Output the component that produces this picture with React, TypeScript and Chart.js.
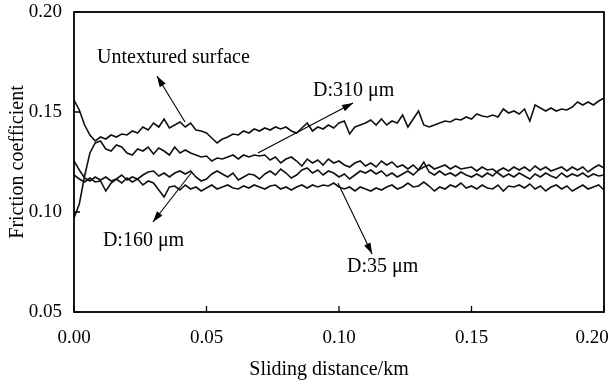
import React, { useEffect, useRef } from 'react';
import { Chart, registerables } from 'chart.js';

Chart.register(...registerables);

// Sliding distance (km)
const distance = [
  0, 0.002, 0.004, 0.006, 0.008, 0.01, 0.012, 0.014, 0.016, 0.018,
  0.02, 0.022, 0.024, 0.026, 0.028, 0.03, 0.032, 0.034, 0.036, 0.038,
  0.04, 0.042, 0.044, 0.046, 0.048, 0.05, 0.052, 0.054, 0.056, 0.058,
  0.06, 0.062, 0.064, 0.066, 0.068, 0.07, 0.072, 0.074, 0.076, 0.078,
  0.08, 0.082, 0.084, 0.086, 0.088, 0.09, 0.092, 0.094, 0.096, 0.098,
  0.1, 0.102, 0.104, 0.106, 0.108, 0.11, 0.112, 0.114, 0.116, 0.118,
  0.12, 0.122, 0.124, 0.126, 0.128, 0.13, 0.132, 0.134, 0.136, 0.138,
  0.14, 0.142, 0.144, 0.146, 0.148, 0.15, 0.152, 0.154, 0.156, 0.158,
  0.16, 0.162, 0.164, 0.166, 0.168, 0.17, 0.172, 0.174, 0.176, 0.178,
  0.18, 0.182, 0.184, 0.186, 0.188, 0.19, 0.192, 0.194, 0.196, 0.198,
  0.2,
];

const untextured = [
  0.156, 0.151, 0.1435, 0.1385, 0.1355, 0.1375, 0.1365, 0.1385, 0.1375, 0.139,
  0.1385, 0.1405, 0.1395, 0.1425, 0.141, 0.1445, 0.1425, 0.1465, 0.142, 0.1435,
  0.145, 0.1425, 0.1445, 0.141, 0.1405, 0.1395, 0.137, 0.1345, 0.1365, 0.1375,
  0.139, 0.1385, 0.1405, 0.1395, 0.1415, 0.1405, 0.142, 0.141, 0.1425, 0.1415,
  0.1425, 0.1405, 0.1395, 0.142, 0.1445, 0.1405, 0.1425, 0.1415, 0.1435, 0.142,
  0.1445, 0.1455, 0.139, 0.1425, 0.1435, 0.1445, 0.146, 0.1435, 0.1465, 0.1435,
  0.1455, 0.1445, 0.1485, 0.1425, 0.1465, 0.1505, 0.1435, 0.1425, 0.1435, 0.1445,
  0.1455, 0.145, 0.1465, 0.146, 0.1475, 0.1465, 0.149, 0.148, 0.1475, 0.1485,
  0.1475, 0.1515, 0.1495, 0.1505, 0.149, 0.1515, 0.1455, 0.1535, 0.152, 0.1505,
  0.152, 0.1505, 0.1515, 0.151, 0.1525, 0.155, 0.1535, 0.155, 0.1535, 0.1555,
  0.157,
];

const d310 = [
  0.097, 0.104, 0.118, 0.1295, 0.1345, 0.1355, 0.1315, 0.1305, 0.1335, 0.1325,
  0.1295, 0.1285, 0.1315, 0.1305, 0.1325, 0.129, 0.132, 0.1305, 0.1285, 0.1325,
  0.1295, 0.131, 0.1295, 0.1285, 0.1275, 0.128, 0.1255, 0.127, 0.1265, 0.1275,
  0.1285, 0.1265, 0.1285, 0.1275, 0.1285, 0.128, 0.1285, 0.126, 0.1275, 0.1245,
  0.1265, 0.1275, 0.1255, 0.123, 0.1265, 0.1245, 0.126, 0.1235, 0.1265, 0.1245,
  0.1255, 0.1235, 0.1225, 0.1245, 0.1255, 0.123, 0.1245, 0.1225, 0.1255, 0.1235,
  0.125, 0.1225, 0.1235, 0.1215, 0.1235, 0.121, 0.1225, 0.1235, 0.1215, 0.1225,
  0.1235, 0.1215, 0.123, 0.1215, 0.122, 0.1225, 0.1205, 0.1225, 0.121, 0.1215,
  0.1195, 0.1175, 0.119, 0.1175, 0.1195, 0.118, 0.1165, 0.119, 0.1175, 0.1195,
  0.118, 0.117, 0.1195, 0.1175, 0.119, 0.118, 0.1195, 0.1175, 0.119, 0.118,
  0.1185,
];

const d160 = [
  0.1255, 0.121, 0.117, 0.1155, 0.1175, 0.116, 0.1175, 0.1155, 0.1165, 0.1185,
  0.116, 0.1175, 0.1165, 0.1185, 0.12, 0.1205, 0.118, 0.1195, 0.1175, 0.1195,
  0.1205, 0.119, 0.1205, 0.1175, 0.1155, 0.1165, 0.119, 0.1205, 0.119, 0.1175,
  0.1195, 0.116, 0.1175, 0.119, 0.1185, 0.1165, 0.119, 0.1205, 0.1185, 0.1215,
  0.1195, 0.117, 0.1185, 0.121, 0.122, 0.1195, 0.121, 0.1185, 0.1205, 0.1195,
  0.1175, 0.119, 0.1165, 0.1185, 0.1205, 0.1195, 0.121, 0.119, 0.1205, 0.118,
  0.1195, 0.1175, 0.119, 0.1205, 0.1185, 0.121, 0.125, 0.12, 0.1185, 0.1205,
  0.1185, 0.1195, 0.118, 0.12, 0.1185, 0.1175, 0.119, 0.1175, 0.1195, 0.118,
  0.1205, 0.122, 0.1205, 0.1225, 0.121, 0.1225, 0.1205, 0.123, 0.121, 0.1225,
  0.1205, 0.1215, 0.1225, 0.1205, 0.1225, 0.121, 0.1225, 0.12, 0.122, 0.1235,
  0.122,
];

const d35 = [
  0.1185, 0.1165, 0.115, 0.117, 0.115, 0.1155, 0.1105, 0.1145, 0.1165, 0.1145,
  0.117, 0.115, 0.1165, 0.1135, 0.1155, 0.1145, 0.111, 0.1075, 0.1125, 0.113,
  0.111, 0.1135, 0.1115, 0.1125, 0.1105, 0.112, 0.1135, 0.1115, 0.1125, 0.1135,
  0.112, 0.1115, 0.113, 0.112, 0.1135, 0.1125, 0.1115, 0.113, 0.1135, 0.1115,
  0.1125, 0.111, 0.1125, 0.1135, 0.112, 0.1135, 0.1125, 0.1135, 0.113, 0.1145,
  0.1125, 0.1115, 0.1125, 0.1105, 0.1125, 0.1115, 0.1105, 0.112, 0.111, 0.1125,
  0.1135, 0.1115, 0.1125, 0.1145, 0.1125, 0.113, 0.115, 0.113, 0.1105, 0.1125,
  0.1115, 0.1135, 0.1125, 0.1145, 0.112, 0.113, 0.1115, 0.1135, 0.112, 0.1115,
  0.1135, 0.1105, 0.113, 0.1125, 0.1135, 0.112, 0.114, 0.1115, 0.113, 0.1105,
  0.1125, 0.1135, 0.1115, 0.113, 0.1105, 0.112, 0.1135, 0.1115, 0.1125, 0.1135,
  0.111,
];

const xTickValues = [0, 0.05, 0.1, 0.15, 0.2];
const yTickValues = [0.05, 0.1, 0.15, 0.2];

// Annotation texts with label anchor, arrow tail (on curve) and arrow head, in data units
const noteTexts = ['Untextured surface', 'D:310 \u03bcm', 'D:160 \u03bcm', 'D:35 \u03bcm'];
const noteLabelAt = [[0.0087, 0.177], [0.0902, 0.1605], [0.0109, 0.0855], [0.103, 0.0725]];
const noteTail = [[0.0419, 0.145], [0.0694, 0.1295], [0.0445, 0.12], [0.0996, 0.1145]];
const noteHead = [[0.0313, 0.168], [0.1053, 0.1545], [0.0298, 0.095], [0.1125, 0.079]];

const FONT = "'Liberation Serif', 'Times New Roman', serif";

const toPoints = (ys: number[]) => ys.map((y, i) => ({ x: distance[i], y }));

const framePlugin = {
  id: 'frameAndNotes',
  afterDatasetsDraw(chart: any) {
    const { ctx, chartArea } = chart;
    const { left, top, right, bottom } = chartArea;
    const xs = chart.scales.x;
    const ys = chart.scales.y;
    ctx.save();
    ctx.strokeStyle = '#000';
    ctx.lineWidth = 1.8;
    ctx.strokeRect(left, top, right - left, bottom - top);
    ctx.lineWidth = 1.3;
    ctx.beginPath();
    xTickValues.forEach((v) => {
      const px = xs.getPixelForValue(v);
      ctx.moveTo(px, bottom);
      ctx.lineTo(px, bottom - 6);
    });
    yTickValues.forEach((v) => {
      const py = ys.getPixelForValue(v);
      ctx.moveTo(left, py);
      ctx.lineTo(left + 6, py);
    });
    ctx.stroke();

    // annotations
    noteTexts.forEach((t, i) => {
      const tx = xs.getPixelForValue(noteTail[i][0]);
      const ty = ys.getPixelForValue(noteTail[i][1]);
      const hx = xs.getPixelForValue(noteHead[i][0]);
      const hy = ys.getPixelForValue(noteHead[i][1]);
      ctx.strokeStyle = '#000';
      ctx.fillStyle = '#000';
      ctx.lineWidth = 1.1;
      ctx.beginPath();
      ctx.moveTo(tx, ty);
      ctx.lineTo(hx, hy);
      ctx.stroke();
      const ang = Math.atan2(hy - ty, hx - tx);
      const L = 11;
      const W = 3.5;
      ctx.beginPath();
      ctx.moveTo(hx, hy);
      ctx.lineTo(hx - L * Math.cos(ang) + W * Math.sin(ang), hy - L * Math.sin(ang) - W * Math.cos(ang));
      ctx.lineTo(hx - L * Math.cos(ang) - W * Math.sin(ang), hy - L * Math.sin(ang) + W * Math.cos(ang));
      ctx.closePath();
      ctx.fill();

      ctx.font = `20px ${FONT}`;
      ctx.textAlign = 'left';
      ctx.textBaseline = 'middle';
      ctx.fillText(t, xs.getPixelForValue(noteLabelAt[i][0]), ys.getPixelForValue(noteLabelAt[i][1]));
    });
    ctx.restore();
  },
};

export default function App() {
  const ref = useRef<HTMLCanvasElement | null>(null);
  useEffect(() => {
    if (!ref.current) return;
    const lineStyle = {
      borderColor: '#111',
      borderWidth: 1.6,
      pointRadius: 0,
      fill: false,
      tension: 0,
    };
    const chart = new Chart(ref.current, {
      type: 'line',
      data: {
        datasets: [
          { label: 'Untextured surface', data: toPoints(untextured), ...lineStyle },
          { label: 'D:310 \u03bcm', data: toPoints(d310), ...lineStyle },
          { label: 'D:160 \u03bcm', data: toPoints(d160), ...lineStyle },
          { label: 'D:35 \u03bcm', data: toPoints(d35), ...lineStyle },
        ],
      },
      options: {
        animation: false,
        responsive: false,
        maintainAspectRatio: false,
        layout: { padding: { top: 12, right: 7, left: 0, bottom: 0 } },
        plugins: { legend: { display: false }, tooltip: { enabled: false } },
        scales: {
          x: {
            type: 'linear',
            min: 0,
            max: 0.2,
            grid: { display: false, drawTicks: false },
            border: { display: false },
            afterBuildTicks: (s: any) => {
              s.ticks = xTickValues.map((v) => ({ value: v }));
            },
            afterFit: (s: any) => {
              s.height = 75;
              s.paddingLeft = 0;
              s.paddingRight = 0;
            },
            ticks: {
              color: '#000',
              padding: 15,
              maxRotation: 0,
              autoSkip: false,
              font: { family: FONT, size: 19 },
              callback: (v: any) => {
                const s = Number(v).toFixed(2);
                return Number(v) >= 0.2 ? s + '\u00a0\u00a0\u00a0\u00a0\u00a0' : s;
              },
            },
            title: {
              display: true,
              text: 'Sliding distance/km\u00a0\u00a0\u00a0\u00a0',
              color: '#000',
              font: { family: FONT, size: 20 },
              padding: { top: 0, bottom: 5 },
            },
          },
          y: {
            type: 'linear',
            min: 0.05,
            max: 0.2,
            grid: { display: false, drawTicks: false },
            border: { display: false },
            afterBuildTicks: (s: any) => {
              s.ticks = yTickValues.map((v) => ({ value: v }));
            },
            afterFit: (s: any) => {
              s.width = 74;
              s.paddingTop = 0;
              s.paddingBottom = 0;
            },
            ticks: {
              color: '#000',
              padding: 12,
              autoSkip: false,
              font: { family: FONT, size: 19 },
              callback: (v: any) => Number(v).toFixed(2),
            },
            title: {
              display: true,
              text: 'Friction coefficient',
              color: '#000',
              font: { family: FONT, size: 20 },
              padding: { top: 6, bottom: 0 },
            },
          },
        },
      },
      plugins: [framePlugin],
    });
    return () => chart.destroy();
  }, []);
  return (
    <div style={{ position: 'fixed', left: 0, top: 0, width: 611, height: 387, background: '#fff' }}>
      <canvas ref={ref} width={611} height={387} style={{ width: 611, height: 387 }} />
    </div>
  );
}
